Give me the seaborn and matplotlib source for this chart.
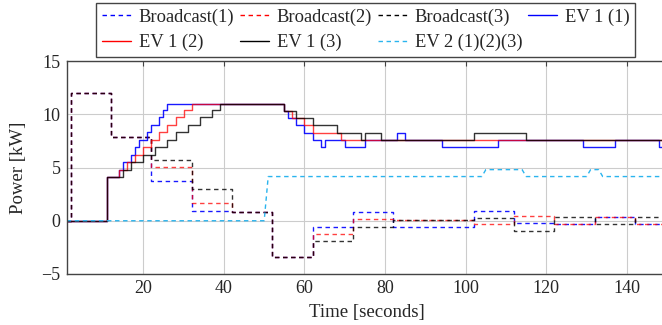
import matplotlib
matplotlib.use("Agg")
import matplotlib.pyplot as plt
import seaborn as sns

# broadcast signals, updated every 10 s (step functions)
bc_time = [1, 2, 12, 22, 32, 42, 52, 62, 72, 82, 102, 112, 122, 132, 142, 150]
bc_1 = [0, 11.95, 7.85, 3.72, 0.94, 0.85, -3.4, -0.56, 0.85, -0.56, 0.91, -0.25, -0.31, 0.38, -0.31, -0.31]
bc_2 = [0, 11.95, 7.85, 5.03, 1.63, 0.85, -3.4, -1.25, 0.13, 0.07, -0.34, 0.44, -0.31, 0.38, -0.31, -0.31]
bc_3 = [0, 11.95, 7.85, 5.75, 2.94, 0.85, -3.4, -1.9, -0.56, 0.07, 0.22, -0.94, 0.38, -0.31, 0.31, 0.31]

# EV 1 charging power, one series per broadcast scheme
ev1_1_time = [1, 11, 14, 15, 17, 18, 19, 21, 22, 24, 25, 26, 55, 56, 58, 60, 62, 64, 65,
              70, 75, 83, 85, 94, 108, 129, 137, 148, 150]
ev1_1 = [0, 4.1, 4.8, 5.5, 6.2, 6.9, 7.6, 8.3, 9.0, 9.7, 10.4, 11.0, 10.3, 9.65, 8.97, 8.28, 7.56, 6.88, 7.56,
         6.88, 7.56, 8.28, 7.56, 6.88, 7.56, 6.88, 7.56, 6.88, 6.88]
ev1_2_time = [1, 11, 14, 16, 18, 20, 22, 24, 26, 28, 30, 32, 55, 57, 60, 62, 69, 150]
ev1_2 = [0, 4.1, 4.8, 5.5, 6.2, 6.9, 7.6, 8.3, 9.0, 9.7, 10.4, 11.0, 10.3, 9.65, 8.97, 8.28, 7.56, 7.56]
ev1_3_time = [1, 11, 15, 17, 20, 23, 26, 28, 31, 34, 37, 39, 55, 58, 62, 68, 74, 75, 79, 102, 115, 150]
ev1_3 = [0, 4.1, 4.8, 5.5, 6.2, 6.9, 7.6, 8.3, 9.0, 9.7, 10.4, 11.0, 10.3, 9.65, 8.97, 8.28, 7.56, 8.28,
         7.56, 8.28, 7.56, 7.56]

# EV 2 (same for all three schemes), sampled every second
ev2_time = [1, 50, 51, 104, 105, 114, 115, 130, 131, 133, 134, 150]
ev2 = [0, 0, 4.15, 4.15, 4.8, 4.8, 4.15, 4.15, 4.8, 4.8, 4.15, 4.15]

sns.set_style("whitegrid")
plt.rcParams['font.family'] = ['Liberation Serif', 'DejaVu Serif']
plt.rcParams['font.size'] = 13
plt.rcParams['axes.unicode_minus'] = True

fig = plt.figure(figsize=(6.62, 3.25), dpi=100)
ax = fig.add_axes([66.7 / 662, 51 / 325, 600.5 / 662, 213 / 325])

dash = (0, (3.2, 2.6))
series = [
    (bc_time, bc_1, '#0000ff', dash, 0.9, 'Broadcast(1)', True),
    (bc_time, bc_2, '#ff0000', dash, 0.75, 'Broadcast(2)', True),
    (bc_time, bc_3, '#000000', dash, 0.8, 'Broadcast(3)', True),
    (ev1_1_time, ev1_1, '#0000ff', '-', 0.9, 'EV 1 (1)', True),
    (ev1_2_time, ev1_2, '#ff0000', '-', 0.75, 'EV 1 (2)', True),
    (ev1_3_time, ev1_3, '#000000', '-', 0.8, 'EV 1 (3)', True),
    (ev2_time, ev2, '#2ab4ee', dash, 1.0, 'EV 2 (1)(2)(3)', False),
]
for t, v, color, ls, alpha, label, is_step in series:
    sns.lineplot(x=t, y=v, ax=ax, color=color, linestyle=ls, linewidth=1.0, alpha=alpha,
                 drawstyle='steps-post' if is_step else 'default', label=label,
                 estimator=None, sort=False)

ax.set_xlim(1, 150)
ax.set_ylim(-5, 15)
ax.set_xticks([20, 40, 60, 80, 100, 120, 140])
ax.set_yticks([-5, 0, 5, 10, 15])
ax.grid(True, color='#cccccc', linewidth=0.8)
ax.tick_params(direction='in', length=3.5, width=0.8, color='#444444', top=True, right=True,
               labelsize=13, pad=4.5)
for s in ax.spines.values():
    s.set_color('#444444')
    s.set_linewidth(1.0)
ax.set_xlabel('Time [seconds]', fontsize=13.5, labelpad=5)
ax.set_ylabel('Power [kW]', fontsize=13.5, labelpad=10)

# row-major legend order, matplotlib fills columns first
handles, labels = ax.get_legend_handles_labels()
order = [0, 4, 1, 5, 2, 6, 3]
leg = ax.legend([handles[i] for i in order], [labels[i] for i in order], ncol=4,
                loc='lower center', bbox_to_anchor=(0.4976, 1.019), frameon=True,
                fancybox=False, framealpha=1, edgecolor='#444444', fontsize=13.3,
                handlelength=1.6, handletextpad=0.4, columnspacing=0.3,
                labelspacing=0.42, borderpad=0.32, borderaxespad=0)
leg.get_frame().set_linewidth(1.0)
for h in leg.legend_handles:
    h.set_alpha(1)

fig.savefig('out.png', dpi=100)
